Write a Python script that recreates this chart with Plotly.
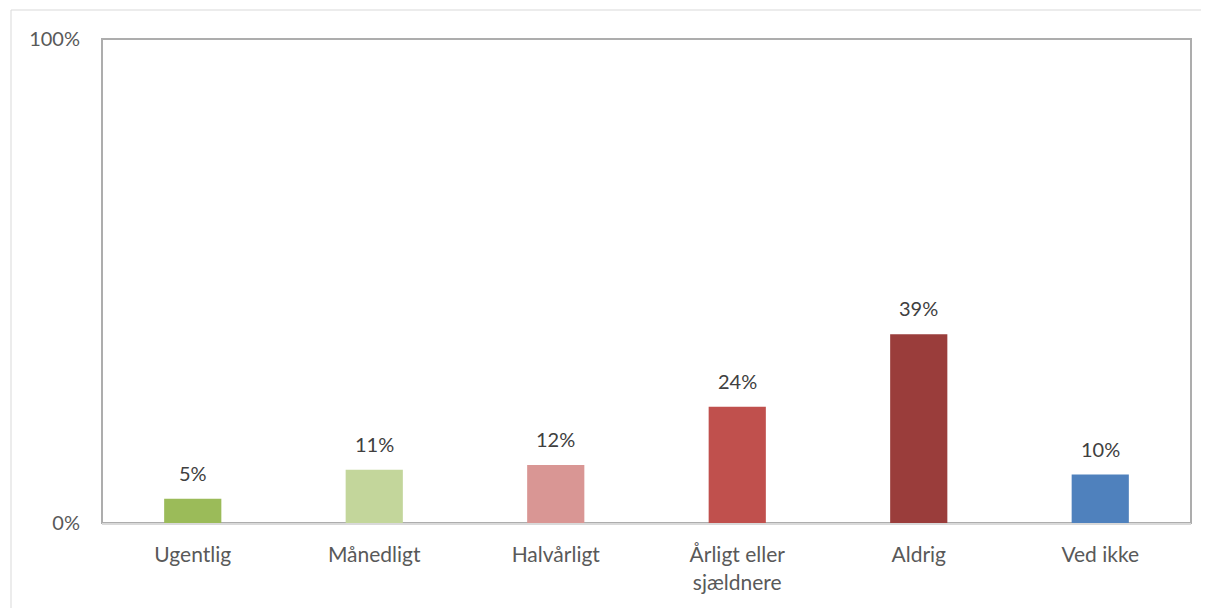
import plotly.graph_objects as go

categories = ["Ugentlig", "Månedligt", "Halvårligt", "Årligt eller<br>sjældnere", "Aldrig", "Ved ikke"]
values = [0.05, 0.11, 0.12, 0.24, 0.39, 0.10]
bar_colors = ["#9BBB59", "#C3D69B", "#D99694", "#C0504D", "#9A3D3B", "#4F81BD"]
y_ticks = [0, 1]
y_tick_labels = ["0%", "100%"]

# page body adds an 8px margin, so the figure is a bit smaller than the window
W, H = 1201, 600
L, R, T, B = 94, 18, 31, 85
pw, ph = W - L - R, H - T - B
FONT = "Lato, Open Sans, sans-serif"

fig = go.Figure()
fig.add_trace(go.Bar(
    x=categories,
    y=values,
    marker_color=bar_colors,
    marker_line_width=0,
    width=0.315,
))

for c, v in zip(categories, values):
    fig.add_annotation(x=c, y=v, text=f"{v:.0%}", showarrow=False,
                       yanchor="bottom", yshift=12,
                       font=dict(family=FONT, size=20, color="#404040"))

# outer chart border
fig.add_shape(type="rect", xref="paper", yref="paper",
              x0=(3 - L) / pw, x1=(W + 20 - L) / pw,
              y0=-(B + 20) / ph, y1=(H - B - 2) / ph,
              line=dict(color="#d9d9d9", width=1), layer="below")
# plot area border
fig.add_shape(type="rect", xref="paper", yref="paper",
              x0=0, x1=1, y0=0, y1=1,
              line=dict(color="#adadad", width=2), layer="below")

fig.update_layout(
    width=W, height=H,
    margin=dict(l=L, r=R, t=T, b=B),
    paper_bgcolor="white",
    plot_bgcolor="white",
    font=dict(family=FONT, size=20, color="#595959"),
    showlegend=False,
    bargap=0.685,
    xaxis=dict(showgrid=False, showline=True, linecolor="#d9d9d9", linewidth=2,
               ticks="outside", ticklen=12, tickcolor="rgba(0,0,0,0)",
               tickfont=dict(family=FONT, size=21, color="#595959")),
    yaxis=dict(range=[0, 1], tickvals=y_ticks, ticktext=y_tick_labels,
               showgrid=False, zeroline=False, showline=False,
               ticks="outside", ticklen=17, tickcolor="rgba(0,0,0,0)",
               tickfont=dict(family=FONT, size=20, color="#595959")),
)

fig.write_html("out.html")
